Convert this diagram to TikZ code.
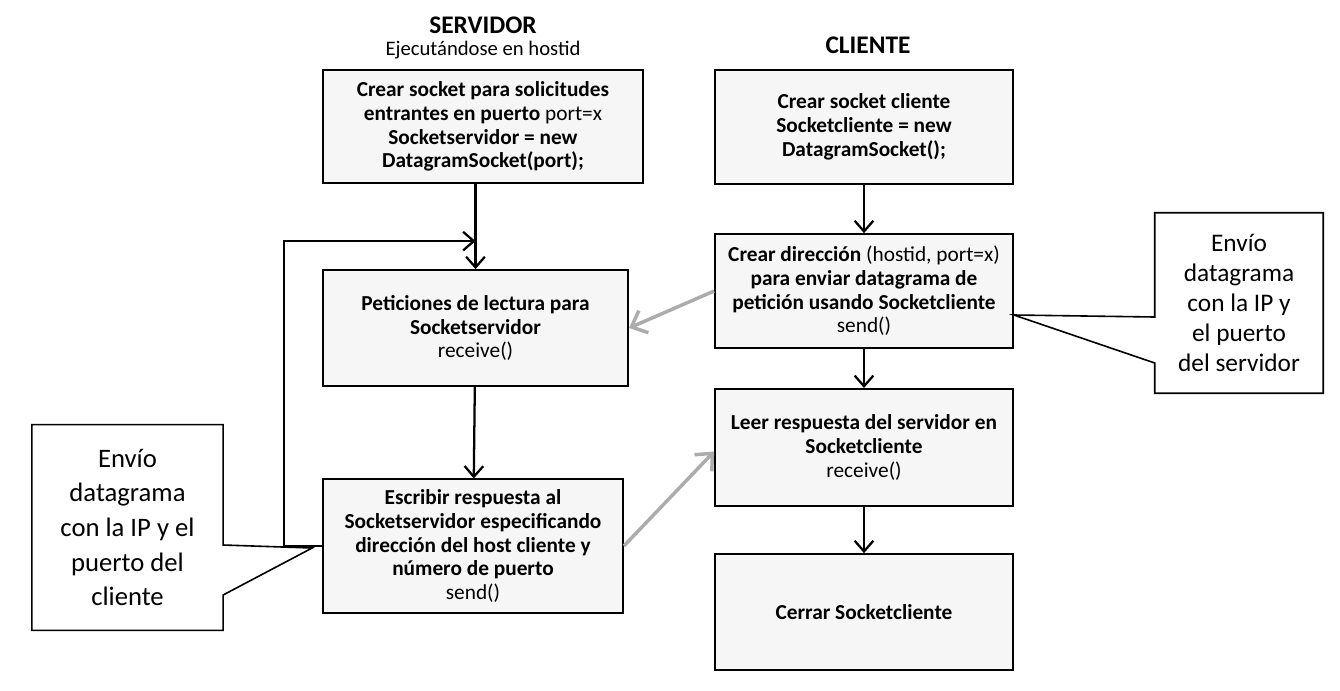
\documentclass[tikz,border=0pt]{standalone}
\usepackage{fontspec}
\setmainfont{Carlito}
\usetikzlibrary{arrows.meta,positioning,calc}
\tikzset{
  procbox/.style  ={draw,line width=1.3pt,fill=gray!7,align=center,inner sep=2pt,
                     font=\bfseries\fontsize{16}{17.8}\selectfont},
  notebox/.style  ={align=center,inner sep=0pt,font=\fontsize{20}{26}\selectfont},
  callout/.style  ={draw,line width=1.2pt},
  titletext/.style={font=\bfseries\fontsize{19}{22}\selectfont},
  flow/.style     ={-{Straight Barb[length=8pt,width=14pt]},line width=1.7pt},
  reply/.style    ={-{Straight Barb[length=10pt,width=18pt]},line width=2.6pt,gray!65},
}
\begin{document}
\begin{tikzpicture}[x=0.75pt,y=-0.75pt]
\useasboundingbox (0,0) rectangle (1340,690);
% servidor
\node[titletext] (tS) at (483,25) {SERVIDOR};
\node[font=\fontsize{15.5}{18}\selectfont,below=-1pt of tS] (sub) {Ejecutándose en hostid};
\node[procbox,minimum width=240pt,minimum height=85pt] (S1) at (483,126.5)
  {Crear socket para solicitudes\\entrantes en puerto \mdseries port=x\\Socketservidor = new\\DatagramSocket(port);};
\node[procbox,minimum width=229pt,minimum height=87pt] (S2) at (475.5,328)
  {Peticiones de lectura para\\Socketservidor\\\mdseries receive()};
\node[procbox,minimum width=225pt,minimum height=100pt] (S3) at (473,546)
  {Escribir respuesta al\\Socketservidor especificando\\dirección del host cliente y\\número de puerto\\\mdseries send()};
% cliente
\node[titletext] (tC) at (868,45) {CLIENTE};
\node[procbox,minimum width=223.5pt,minimum height=85.5pt] (C1) at (864,127)
  {Crear socket cliente\\Socketcliente = new\\DatagramSocket();};
\node[procbox,minimum width=223.5pt,minimum height=85.5pt] (C2) at (864,291)
  {Crear dirección \mdseries(hostid, port=x)\\\bfseries para enviar datagrama de\\petición usando Socketcliente\\\mdseries send()};
\node[procbox,minimum width=223.5pt,minimum height=88pt] (C3) at (864,447.5)
  {Leer respuesta del servidor en\\Socketcliente\\\mdseries receive()};
\node[procbox,minimum width=223.5pt,minimum height=87pt] (C4) at (864,612)
  {Cerrar Socketcliente};
% flujo principal
\coordinate (join) at ($(S2.north)+(0,-28)$);
\draw[flow] (S2.north |- S1.south) -- (S2.north);
\draw[flow] (S2) -- (S3);
\draw[flow] (S3.west) -- ++(-38,0) |- (join);
\foreach \a/\b in {C1/C2,C2/C3,C3/C4} \draw[flow] (\a) -- (\b);
% datagramas
\draw[reply] (C2.west) -- (S2.east);
\draw[reply] (S3.east) -- ($(C3.west)+(0,4)$);
% notas
\node[notebox,minimum width=143pt,minimum height=154pt] (nL) at (127.5,527.5)
  {Envío\\datagrama\\con la IP y el\\puerto del\\cliente};
\coordinate (tipL) at ($(S3.west)+(-10,2)$);
\draw[callout] (nL.north west) -- (nL.north east) -- ($(nL.east|-tipL)+(0,-3)$) -- (tipL)
  -- ($(nL.east|-tipL)+(0,47)$) -- (nL.south east) -- (nL.south west) -- cycle;
\node[notebox,font=\fontsize{19}{22.5}\selectfont,minimum width=126pt,minimum height=135pt] (nR) at (1239,303)
  {Envío\\datagrama\\con la IP y\\el puerto\\del servidor};
\coordinate (tipR) at ($(C2.east)+(0,24)$);
\draw[callout] (nR.north west) -- (nR.north east) -- (nR.south east) -- (nR.south west)
  -- ($(nR.west|-tipR)+(0,48)$) -- (tipR) -- ($(nR.west|-tipR)+(0,2)$) -- cycle;
\end{tikzpicture}
\end{document}
